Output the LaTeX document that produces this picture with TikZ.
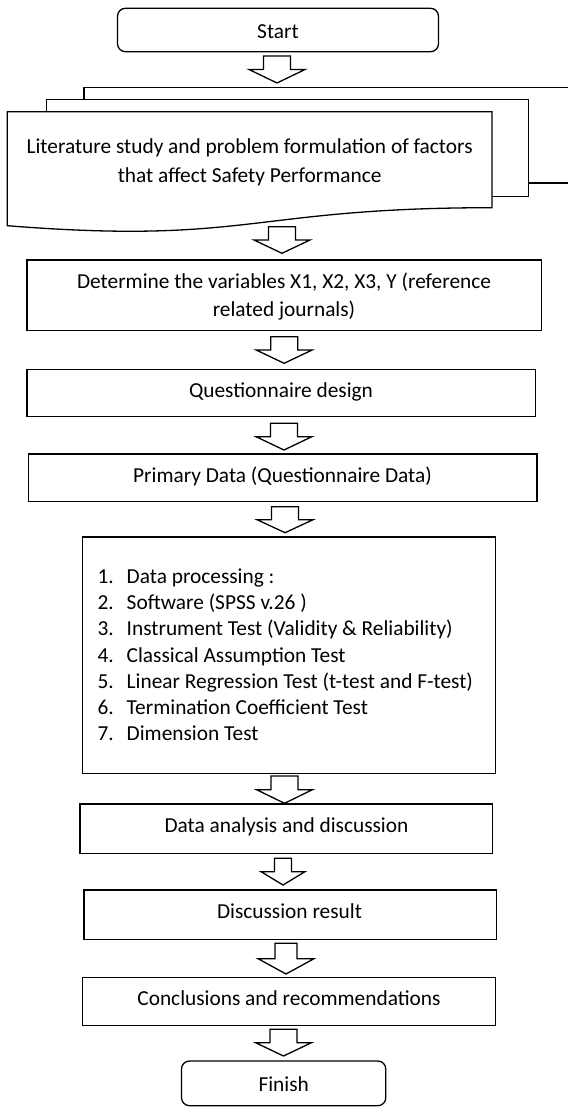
\documentclass[tikz,border=0pt]{standalone}
\usepackage{fontspec}
\setmainfont{Carlito}
\usetikzlibrary{calc}
\begin{document}
\begin{tikzpicture}[x=1pt,y=-1pt,
  every node/.style={font=\fontsize{21.35}{26}\selectfont, inner sep=0pt, outer sep=0pt},
  box/.style={draw=black, line width=1.3pt, fill=white, rectangle},
  rbox/.style={box, rounded corners=8pt},
  txt/.style={anchor=base},
  itm/.style={anchor=base west},
  outline/.style={draw=black, line width=1.3pt, fill=white, line join=miter},
  bas/.store in=\bas, bah/.store in=\bah, bas=13.5pt, bah=28pt,
  blockarrow/.style={outline, to path={let \p1=(\tikztostart), \p2=(\tikztotarget) in
    (\x1-\bas,\y1) -- (\x1+\bas,\y1) -- (\x1+\bas,{(\y1+\y2)/2}) -- (\x1+\bah,{(\y1+\y2)/2})
    -- (\x1,\y2) -- (\x1-\bah,{(\y1+\y2)/2}) -- (\x1-\bas,{(\y1+\y2)/2}) -- cycle}},
]
\useasboundingbox (0,0) rectangle (567,1107);

% boxes
\node[rbox, minimum width=321pt, minimum height=43.4pt] (start) at (278,30) {};
\node[box, minimum width=514.1pt, minimum height=70.7pt] (det) at (284.15,295.35) {};
\node[box, minimum width=508.7pt, minimum height=47.4pt] (ques) at (281.45,393) {};
\node[box, minimum width=508.7pt, minimum height=47.7pt] (prim) at (282.55,477.85) {};
\node[box, minimum width=412.6pt, minimum height=236.3pt] (items) at (289,655.15) {};
\node[box, minimum width=412.4pt, minimum height=49.3pt] (data) at (286.2,828.65) {};
\node[box, minimum width=412.5pt, minimum height=49.3pt] (disc) at (290.15,914.65) {};
\node[box, minimum width=412.9pt, minimum height=48.4pt] (concl) at (288.85,1001.5) {};
\node[rbox, minimum width=204.3pt, minimum height=44.7pt] (finish) at (283.65,1083.35) {};

% multidocument stack
\draw[outline] (84,87.3) -- (580,87.3) -- (580,183) -- (84,183) -- cycle;
\draw[outline] (46.7,99.3) -- (528.3,99.3) -- (528.3,196.5) -- (46.7,196.5) -- cycle;
\draw[outline] (7.3,111.7) -- (492,111.7) -- (492,207.7)
  .. controls (249.65,207.7) and (249.65,245) .. (7.3,225.7) -- cycle;
\coordinate (backtop) at (277,87.3);
\coordinate (docbot) at (282,226.7);

% texts
\node[txt] (tstart) at (278,39) {Start};
\node[txt] (lit1) at (249.65,153.3) {Literature study and problem formulation of factors};
\node[txt] (lit2) at (249.65,183) {that affect Safety Performance};
\node[txt] (det1) at (284,288.3) {Determine the variables X1, X2, X3, Y (reference};
\node[txt] (det2) at (284,316) {related journals)};
\node[txt] (tques) at (281,397.3) {Questionnaire design};
\node[txt] (tprim) at (282.5,482.4) {Primary Data (Questionnaire Data)};
\foreach \t [count=\i] in {{Data processing :},{Software (SPSS v.26 )},{Instrument Test (Validity \& Reliability)},{Classical Assumption Test},{Linear Regression Test (t-test and F-test)},{Termination Coefficient Test},{Dimension Test}} {
  \node[itm] (num\i) at (97.5,{583.5+26.2*(\i-1)}) {\i.};
  \node[itm] (item\i) at (126.7,{583.5+26.2*(\i-1)}) {\t};
}
\node[txt] (tdata) at (286.5,832.5) {Data analysis and discussion};
\node[txt] (tdisc) at (289.5,918.2) {Discussion result};
\node[txt] (tconcl) at (289,1005) {Conclusions and recommendations};
\node[txt] (tfinish) at (283.7,1091.5) {Finish};

% block arrows
\draw[blockarrow] ([shift={(-1,4.3)}]start.south) to ([shift={(0,-4.3)}]backtop);
\draw[blockarrow] (docbot) to ([shift={(0,-6.7)}]det.north);
\draw[blockarrow] ([shift={(0,6)}]det.south) to ([shift={(0,-6)}]ques.north);
\draw[blockarrow] ([shift={(2.5,6.6)}]ques.south) to ([shift={(0,-4)}]prim.north);
\draw[blockarrow] ([shift={(2.5,5)}]prim.south) to ([shift={(0,-4.3)}]items.north);
\draw[blockarrow] ([shift={(-4.5,2.7)}]items.south) to ([shift={(0,-0.7)}]data.north);
\draw[blockarrow, bas=8.5pt, bah=22pt] ([shift={(-3.2,5)}]data.south) to ([shift={(0,-5)}]disc.north);
\draw[blockarrow, bas=11pt] ([shift={(-4.15,4)}]disc.south) to ([shift={(0,-3.3)}]concl.north);
\draw[blockarrow] ([shift={(-5.35,3.6)}]concl.south) to ([shift={(0,-5)}]finish.north);
\end{tikzpicture}
\end{document}
